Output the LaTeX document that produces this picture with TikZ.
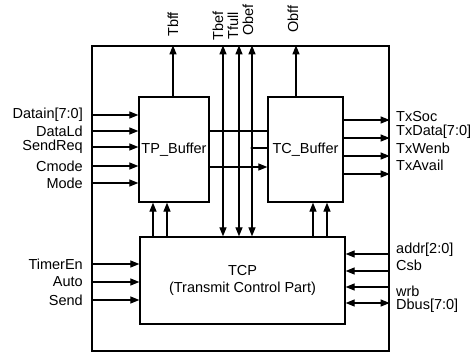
\documentclass[tikz,border=0pt]{standalone}
\usepackage{fontspec}
\setmainfont{Liberation Sans}
\usetikzlibrary{arrows.meta}
\tikzset{
  blk/.style={draw, line width=1.3pt, inner sep=0pt, font=\fontsize{14.5}{17}\selectfont},
  sig/.style={line width=1.2pt, -{Triangle[length=9pt,width=7pt]}},
  bus/.style={line width=1.2pt, {Triangle[length=9pt,width=7pt]}-{Triangle[length=9pt,width=7pt]}},
  wire/.style={line width=1.2pt},
  lbl/.style={font=\fontsize{14.5}{16}\selectfont, inner sep=0pt},
}

\begin{document}
\begin{tikzpicture}[x=1pt,y=-1pt]
\useasboundingbox (0,0) rectangle (472,354);
\fill[white] (0,0) rectangle (472,354);
\node[blk, minimum width=297pt, minimum height=305pt] (chip) at (240.5,198.5) {};
\node[blk, minimum width=70pt, minimum height=105pt] (tp) at (174,149.5) {TP\_Buffer};
\node[blk, minimum width=75pt, minimum height=105pt] (tc) at (305.5,149.5) {TC\_Buffer};
\node[blk, minimum width=205pt, minimum height=87pt, align=center] (tcp) at (242.5,280.5) {TCP\\(Transmit Control Part)};
% inputs of the buffer
\foreach \y/\t in {115/{Datain[7:0]}, 131/DataLd, 147/SendReq, 166/Cmode, 183/Mode} {
  \node[lbl, anchor=east] (in\y) at (83,\y) {\t};
  \draw[sig] (chip.west |- 0,\y) -- (tp.west |- 0,\y);
}
\foreach \y/\t in {264/TimerEn, 282/Auto, 300/Send} {
  \node[lbl, anchor=east] (in\y) at (83,\y) {\t};
  \draw[sig] (chip.west |- 0,\y) -- (tcp.west |- 0,\y);
}
% outputs of TC_Buffer
\foreach \y/\t in {120/TxSoc, 138/{TxData[7:0]}, 156/TxWenb, 174/TxAvail}
  \draw[sig] (tc.east |- 0,\y) -- (chip.east |- 0,\y);
\node[lbl, anchor=west] (txsoc) at (396,117) {TxSoc};
\node[lbl, anchor=west] (txdata) at (396,132) {TxData[7:0]};
\node[lbl, anchor=west] (txwenb) at (396,148) {TxWenb};
\node[lbl, anchor=west] (txavail) at (396,165) {TxAvail};
% host interface
\foreach \y in {254,271,287}
  \draw[sig] (chip.east |- 0,\y) -- (tcp.east |- 0,\y);
\draw[bus] (tcp.east |- 0,303) -- (chip.east |- 0,303);
\node[lbl, anchor=west] (addr) at (396,250) {addr[2:0]};
\node[lbl, anchor=west] (csb) at (396,265) {Csb};
\node[lbl, anchor=west] (wrb) at (396,291) {wrb};
\node[lbl, anchor=west] (dbus) at (396,306) {Dbus[7:0]};
% status flags
\draw[sig] (tp.north -| 173,0) -- (chip.north -| 173,0);
\draw[sig] (tc.north -| 296,0) -- (chip.north -| 296,0);
\foreach \x in {223,239,252}
  \draw[bus] (tcp.north -| \x,0) -- (chip.north -| \x,0);
\node[lbl, rotate=90, anchor=west] (tbff) at (173,37) {Tbff};
\node[lbl, rotate=90, anchor=west] (tbef) at (218,41) {Tbef};
\node[lbl, rotate=90, anchor=west] (tfull) at (233,40) {Tfull};
\node[lbl, rotate=90, anchor=west] (obef) at (248,36) {Obef};
\node[lbl, rotate=90, anchor=west] (obff) at (293,33) {Obff};
% control from TCP
\foreach \x in {153,167}
  \draw[sig] (tcp.north -| \x,0) -- (tp.south -| \x,0);
\foreach \x in {313,327}
  \draw[sig] (tcp.north -| \x,0) -- (tc.south -| \x,0);
% between the buffers
\coordinate (j1) at (223,131);
\coordinate (j2) at (239,131);
\coordinate (j3) at (252,148);
\draw[wire] (tp.east |- j1) -- (tc.west |- j1);
\draw[wire] (j3) -- (tc.west |- j3);
\draw[sig] (tp.east |- 0,167) -- (tc.west |- 0,167);
\foreach \j in {j1,j2,j3}
  \fill (\j) circle (1.6);
\end{tikzpicture}
\end{document}
